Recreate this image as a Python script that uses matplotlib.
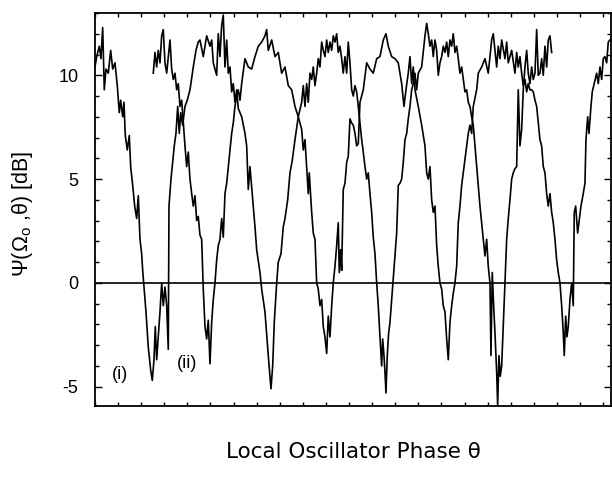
import matplotlib
matplotlib.use("Agg")
import matplotlib.pyplot as plt
from matplotlib.ticker import MultipleLocator

plt.rcParams.update({"font.family": "Liberation Sans", "mathtext.default": "regular", "font.size": 13,
                     "axes.unicode_minus": False})

# phase in arbitrary units (axis spans 0..516), noise level in dB
theta_i = [0, 1.7, 4.3, 6, 7.7, 9.3, 11, 13.3, 15.7, 17.7, 20, 22.3, 24.3, 25.7, 27.7, 29, 30.3, 32.3, 34.3, 35.7,
           37.7, 39.7, 41.7, 43.3, 45, 46.7, 47.7, 49, 51, 53.3, 55.7, 57.3, 59, 60.3, 61.7, 63.3, 65, 66.7, 68.3, 70,
           71.7, 73.3, 74, 76, 77.7, 79.3, 81, 82.7, 84.3, 85.7, 87.7, 90, 92.3, 95, 98.3, 101, 103.3, 105, 108.3, 111.7,
           115, 116.7, 118.3, 121.7, 123.3, 125, 126.7, 128.3, 130, 131.7, 133.3, 135, 136.7, 138.3, 140, 141.7, 143.3,
           146.7, 150, 151.7, 153.3, 155, 158.3, 160, 161.7, 165, 166.7, 170, 173.3, 176, 177.7, 179.3, 181.7, 183.3,
           186, 188.3, 190, 192.7, 195, 197.3, 200, 203.3, 206.7, 208.3, 210, 211.7, 213.3, 215, 216.7, 218.3, 220,
           221.7, 223.3, 225, 226.7, 228.3, 230, 231.7, 233.3, 235, 236.7, 238.3, 240, 241.7, 243.3, 245, 246.7, 248.3,
           250, 251.7, 253.3, 255, 256.7, 258.3, 260, 261.7, 263.3, 265, 266.7, 268.3, 270, 271.7, 273.3, 275, 276.7,
           278.3, 280, 281.7, 283.3, 285, 286.7, 287.7, 289, 290, 291, 292.3, 293.7, 295, 296.7, 298.3, 300, 301.7,
           303.3, 305, 306.7, 308.3, 310, 311.7, 313.3, 315, 316.7, 318.3, 320, 321.7, 323.3, 326.7, 330, 331.7, 333.3,
           335, 336.7, 338.3, 340, 341.7, 343.3, 345, 346.7, 348.3, 350, 351.7, 353.3, 355, 356.7, 358.3, 360, 361.7,
           363.3, 365, 366.7, 368.3, 370, 371.7, 373.3, 375, 376.7, 378.3, 380, 381.7, 383.3, 385, 386.7, 388.3, 390,
           391.7, 393.3, 395, 396, 397.3, 398.7, 400, 401.7, 402.7, 404, 405.3, 406.7, 408.3, 410, 411.7, 413.3, 415,
           416.7, 418.3, 420, 421.7, 423.3, 425, 426.7, 428.3, 430, 431.7, 433.3, 435, 436.7, 438.3, 440, 441.7, 443.3,
           445, 446.7, 448.3, 450, 451.7, 453.3, 455, 456.7]
psi_i = [10.4, 10.9, 11.4, 10.8, 12.3, 9.3, 10.3, 10.1, 11.2, 10.3, 10.6, 9.5, 8.2, 8.8, 8.0, 8.7, 7.1, 6.4, 7.1, 5.6,
         4.7, 3.7, 3.1, 4.2, 2.1, 1.4, 0.6, -0.2, -1.4, -3.1, -4.2, -4.7, -3.7, -2.1, -3.7, -2.6, -1.4, 0.0, -1.1, -0.2,
         -1.1, -3.2, 3.7, 5.0, 5.8, 6.6, 7.2, 8.5, 7.2, 8.2, 7.6, 8.5, 8.8, 9.3, 10.4, 11.2, 11.6, 11.7, 10.9, 11.9,
         11.4, 11.7, 10.6, 10.0, 12.0, 10.9, 12.4, 12.9, 10.4, 11.7, 10.1, 10.4, 9.2, 9.6, 8.7, 9.3, 8.4,
         8.0, 7.2, 6.6, 4.5, 5.6, 3.7, 2.7, 1.6, 0.5, -0.3, -1.4, -3.5, -5.1, -4.0, -1.9, 0.0, 1.0,
         1.4, 2.7, 3.1, 4.0, 5.3, 5.9, 6.9, 8.0, 8.7, 9.5, 8.5, 9.6, 8.7, 10.1, 9.8, 10.4, 9.5,
         10.1, 10.8, 10.4, 11.6, 11.2, 10.9, 11.7, 11.1, 11.6, 11.2, 11.9, 11.6, 12.0, 11.1, 11.4, 10.8, 10.1,
         10.9, 10.1, 11.6, 10.6, 9.3, 9.0, 9.5, 9.2, 8.5, 7.7, 6.9, 6.3, 5.6, 5.0, 5.3, 4.3, 3.4,
         2.2, 1.4, 0.0, -1.1, -2.6, -4.0, -2.7, -3.5, -4.3, -5.3, -3.5, -2.4, -1.9, -0.8, 0.2, 1.4, 2.4,
         4.7, 4.8, 5.0, 5.8, 6.9, 7.2, 7.9, 8.5, 9.3, 9.6, 10.1, 9.3, 10.1, 10.4, 11.9, 12.5, 12.0,
         11.4, 11.7, 10.9, 11.7, 11.2, 10.0, 10.6, 10.9, 11.4, 11.1, 11.6, 10.9, 11.7, 11.4, 12.0, 11.1, 11.4,
         10.8, 10.1, 10.4, 9.8, 9.2, 9.3, 8.7, 8.5, 8.0, 7.6, 6.6, 5.6, 4.7, 3.7, 2.9, 2.1, 1.3,
         2.1, 0.8, 0.0, -3.5, 0.5, -1.1, -2.4, -4.3, -5.9, -3.5, -4.5, -4.0, -2.1, 0.0, 2.1, 3.1, 4.0,
         5.0, 5.3, 5.5, 5.6, 9.3, 6.6, 7.4, 9.3, 10.4, 11.2, 10.1, 9.6, 10.4, 9.8, 10.1, 12.2, 10.0,
         10.1, 10.8, 10.0, 11.4, 10.4, 11.7, 11.9, 11.1]

theta_ii = [58.3, 60, 61.7, 63.3, 65, 66.7, 68.3, 70, 71.7, 73.3, 75, 76.7, 78.3, 80, 81.7, 83.3, 85, 86.7, 88.3, 90,
            91.7, 93.3, 95, 96.7, 98.3, 100, 101.7, 103.3, 105, 106.7, 108.3, 110, 111.7, 113.3, 115, 116.7, 118.3, 120,
            121.7, 123.3, 125, 126.7, 128.3, 130, 131.7, 133.3, 135, 136.7, 138.3, 140, 141.7, 143.3, 145, 146.7, 150,
            153.3, 156.7, 160, 163.3, 166.7, 170, 171.7, 173.3, 176.7, 180, 183.3, 186.7, 190, 193.3, 196.7, 200, 203.3,
            206.7, 208.3, 210, 211.7, 213.3, 214.3, 216.7, 218.3, 220, 221.7, 223.3, 225, 226.7, 228.3, 230, 231.7,
            233.3, 235, 236.7, 238.3, 240, 241.7, 243.3, 244.3, 245.7, 246.7, 248.3, 250, 251.7, 253.3, 255, 256.7,
            258.3, 260, 261.7, 263.3, 265, 268.3, 271.7, 275, 278.3, 281.7, 285, 288.3, 291, 293.3, 296.7, 300, 303.3,
            306.7, 309, 311, 313.3, 315, 316.7, 318.3, 320, 323.3, 326.7, 330, 331.7, 333.3, 335, 336.7, 338.3, 340,
            341.7, 343.3, 345, 346.7, 348.3, 350, 351.7, 353.3, 355, 356.7, 358.3, 360, 361.7, 363.3, 365, 366.7, 368.3,
            370, 371.7, 373.3, 375, 376.7, 378.3, 381.7, 383.3, 386.7, 390, 393.3, 396.7, 398.3, 400, 401.7, 403.3, 405,
            406.7, 410, 411.7, 413.3, 416.7, 420, 421.7, 423.3, 425, 426.7, 428.3, 430, 431.7, 433.3, 435, 436.7, 438.3,
            440, 441.7, 443.3, 445, 446.7, 448.3, 450, 451.7, 453.3, 455, 456.7, 458.3, 460, 461.7, 463.3, 465, 466.7,
            468.3, 469.3, 470.7, 472, 473.3, 475, 476.7, 478.3, 479.3, 480.7, 482.7, 484, 486, 488.3, 490, 491, 492.7,
            494, 496, 497.3, 499.3, 501.7, 503.3, 505, 506.7, 508.3, 510, 511.7, 513.3, 515]
psi_ii = [10.1, 11.1, 10.4, 11.2, 10.6, 11.9, 12.2, 10.6, 10.1, 10.9, 11.7, 10.3, 9.8, 10.1, 9.3, 9.6, 8.5, 8.8, 7.7, 6.6,
          5.6, 6.3, 5.0, 4.3, 3.7, 4.2, 3.0, 3.2, 2.3, 2.1, -0.3, -2.1, -2.7, -1.8, -3.9, -1.9, -0.8, 0.0,
          1.1, 1.8, 2.1, 3.1, 2.2, 4.3, 4.8, 5.6, 6.4, 7.2, 7.7, 8.5, 9.0, 9.3, 8.8, 9.6, 10.8,
          10.4, 10.3, 10.9, 11.4, 11.6, 11.9, 12.2, 11.2, 11.7, 10.9, 11.1, 10.1, 10.4, 9.5, 9.3, 8.5, 8.0,
          7.4, 6.4, 6.9, 5.6, 4.3, 5.3, 3.4, 2.4, 2.1, 0.0, -0.3, -1.1, -0.8, -2.1, -2.6, -3.4,
          -1.6, -2.6, -1.1, 0.0, 0.8, 1.8, 2.9, 0.5, 1.6, 0.6, 4.5, 4.8, 5.8, 6.1, 7.9, 7.7,
          7.6, 7.2, 6.6, 6.7, 8.7, 9.3, 10.6, 10.3, 10.1, 10.8, 10.9, 11.7, 12.0, 11.4, 10.9, 10.8, 10.6,
          9.6, 8.5, 9.3, 10.1, 10.9, 9.6, 10.4, 9.3, 8.5, 7.6, 6.6, 5.3, 5.0, 5.6, 4.0, 3.4, 3.7,
          1.8, 0.8, 0.0, -0.3, -1.1, -1.4, -2.7, -3.7, -1.9, -1.1, -0.5, 0.0, 0.8, 2.9, 3.7, 4.7, 5.3,
          5.9, 6.6, 7.2, 7.6, 7.2, 8.5, 9.3, 10.1, 10.4, 10.8, 10.1, 11.7, 12.0, 11.2, 10.4, 11.4, 10.8,
          11.7, 10.8, 11.6, 10.6, 11.2, 10.1, 11.1, 10.4, 10.9, 10.1, 9.5, 9.8, 9.2, 9.6, 9.3, 9.3, 9.2,
          8.8, 8.5, 7.7, 6.9, 6.6, 5.6, 5.3, 4.3, 3.7, 4.3, 3.4, 2.9, 2.1, 1.1, 0.5, 0.0, -1.1,
          -2.4, -3.5, -1.6, -2.6, -2.1, -0.8, 0.0, -1.1, 3.4, 3.7, 2.4, 2.9, 3.7, 4.3, 4.8, 6.9, 8.0,
          7.2, 8.5, 9.2, 9.6, 10.1, 9.6, 10.4, 9.8, 10.8, 10.9, 10.6, 11.6, 11.7]

fig = plt.figure(figsize=(6.12, 4.83), dpi=100)
ax = fig.add_axes([0.1552, 0.1594, 0.8431, 0.8137])

ax.plot(theta_i, psi_i, color="black", lw=1.2)
ax.plot(theta_ii, psi_ii, color="black", lw=1.2)
ax.axhline(0, color="black", lw=1.2)

ax.set_xlim(0, 516)
ax.set_ylim(-5.93, 13.0)
ax.xaxis.set_major_locator(MultipleLocator(23.1))
ax.yaxis.set_major_locator(MultipleLocator(5))
ax.yaxis.set_minor_locator(MultipleLocator(1))
ax.tick_params(axis="both", which="both", direction="in", top=True, right=True, width=1)
ax.tick_params(axis="x", labelbottom=False, length=3)
ax.tick_params(axis="y", which="major", length=5, pad=12, labelsize=13)
ax.tick_params(axis="y", which="minor", length=3)
for s in ax.spines.values():
    s.set_linewidth(1.3)

ax.set_xlabel("Local Oscillator Phase θ", family="DejaVu Sans", fontsize=15.5, labelpad=26)
ax.set_ylabel("Ψ(Ω$_o$ ,θ) [dB]", fontsize=15.5, va="center")
ax.yaxis.set_label_coords(-0.14, 0.49)

ax.text(25, -4.43, "(i)", ha="center", va="center", fontsize=13)
ax.text(92, -3.86, "(ii)", ha="center", va="center", fontsize=13)

fig.savefig("out.png", dpi=100)
